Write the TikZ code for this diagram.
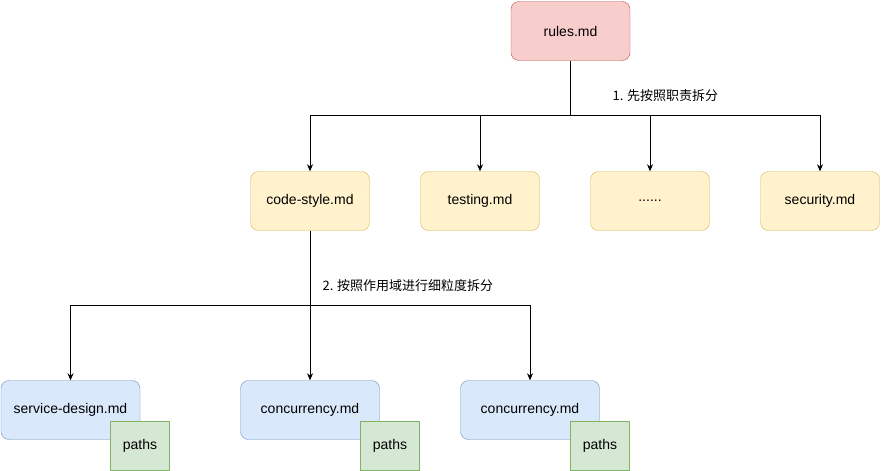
\documentclass[tikz,border=0pt]{standalone}
\usepackage{fontspec}
\setmainfont{Liberation Sans}
\newfontfamily\cjk{Noto Sans CJK SC}
\usetikzlibrary{positioning,arrows.meta}

\definecolor{redfill}{HTML}{F8CECC}
\definecolor{redline}{HTML}{B85450}
\definecolor{yellowfill}{HTML}{FFF2CC}
\definecolor{yellowline}{HTML}{D6B656}
\definecolor{bluefill}{HTML}{DAE8FC}
\definecolor{blueline}{HTML}{6C8EBF}
\definecolor{greenfill}{HTML}{D5E8D4}
\definecolor{greenline}{HTML}{82B366}

\tikzset{
    box/.style={draw, rounded corners=8pt, minimum width=119pt, minimum height=59pt, font=\fontsize{14}{16}\selectfont},
    redbox/.style={box, fill=redfill, draw=redline},
    yellowbox/.style={box, fill=yellowfill, draw=yellowline},
    bluebox/.style={box, fill=bluefill, draw=blueline, minimum width=139pt},
    tagbox/.style={draw=greenline, fill=greenfill, minimum width=59pt, minimum height=49pt, font=\fontsize{14}{16}\selectfont},
    link/.style={-{Stealth[length=7pt,width=6pt]}, line width=0.8pt},
    label/.style={anchor=west, font=\cjk\fontsize{13}{15}\selectfont}
}

\begin{document}
\begin{tikzpicture}[x=1pt, y=-1pt]
    \useasboundingbox (0,0) rectangle (881,471);

    \node[redbox] (rules) at (570.5, 31) {rules.md};

    \node[yellowbox] (style) at (310, 201) {code-style.md};
    \node[yellowbox] (testing) at (480, 201) {testing.md};
    \node[yellowbox] (more) at (650, 201) {......};
    \node[yellowbox] (security) at (820, 201) {security.md};

    \node[bluebox] (service) at (70.5, 410) {service-design.md};
    \node[bluebox] (conc1) at (310, 410) {concurrency.md};
    \node[bluebox] (conc2) at (530, 410) {concurrency.md};

    \node[tagbox] (paths1) at (140, 446) {paths};
    \node[tagbox] (paths2) at (390, 446) {paths};
    \node[tagbox] (paths3) at (600, 446) {paths};

    % first split
    \coordinate (split1) at (570.5, 115);
    \draw[line width=0.8pt] (rules.south) -- (split1);
    \foreach \n in {style, testing, more, security}
        \draw[link] (split1) -| (\n.north);
    \node[label] at (609, 96) {1. 先按照职责拆分};

    % second split
    \coordinate (split2) at (310, 305);
    \draw[line width=0.8pt] (style.south) -- (split2);
    \foreach \n in {service, conc1, conc2}
        \draw[link] (split2) -| (\n.north);
    \node[label] at (319, 286) {2. 按照作用域进行细粒度拆分};
\end{tikzpicture}
\end{document}
